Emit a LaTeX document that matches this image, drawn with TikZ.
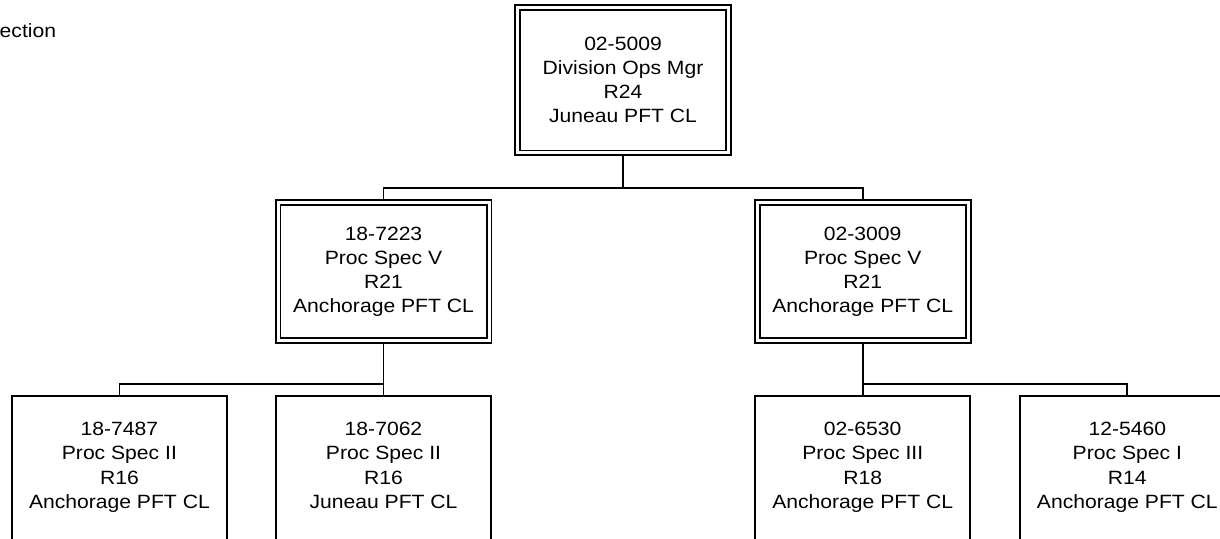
\documentclass[tikz,border=0pt]{standalone}
\usepackage{fontspec}
\setmainfont{Liberation Sans}[FakeStretch=1.1]
\begin{document}
\begin{tikzpicture}[x=1pt,y=-1pt,
  every node/.style={font=\fontsize{19.2}{24.2}\selectfont, align=center, text=black},
  dbox/.style={draw, line width=1.8pt, double, double distance=3pt, inner sep=0pt,
               outer sep=3.3pt, minimum width=211pt},
  sbox/.style={draw, line width=1.8pt, inner xsep=0pt, inner ysep=26.5pt, outer sep=0pt,
               minimum width=215pt, anchor=north, text depth=120pt},
  link/.style={line width=1.8pt}]
\useasboundingbox (0,0) rectangle (1220,538);
\clip (0,0) rectangle (1220,538);

\node[anchor=base west, inner sep=0pt] (sec) at (-0.5,37.5) {ection};

\node[dbox, minimum height=145.6pt] (top) at (623,80)
  {02-5009\\Division Ops Mgr\\R24\\Juneau PFT CL};
\node[dbox, minimum height=138.3pt] (ml) at (383.5,271.6)
  {18-7223\\Proc Spec V\\R21\\Anchorage PFT CL};
\node[dbox, minimum height=138.3pt] (mr) at (862.7,271.6)
  {02-3009\\Proc Spec V\\R21\\Anchorage PFT CL};

\node[sbox] (b1) at (119.4,395.8) {18-7487\\Proc Spec II\\R16\\Anchorage PFT CL};
\node[sbox] (b2) at (383.5,395.8) {18-7062\\Proc Spec II\\R16\\Juneau PFT CL};
\node[sbox] (b3) at (862.7,395.8) {02-6530\\Proc Spec III\\R18\\Anchorage PFT CL};
\node[sbox] (b4) at (1127.3,395.8) {12-5460\\Proc Spec I\\R14\\Anchorage PFT CL};

\coordinate (j0) at (623,188);
\coordinate (j1) at (383.5,384);
\coordinate (j2) at (862.7,384);

\draw[link] (top.south) -- (j0);
\draw[link] (ml.north) |- (j0) -| (mr.north);
\draw[link] (ml.south) -- (j1);
\draw[link] (b1.north) |- (j1) -- (b2.north);
\draw[link] (mr.south) -- (j2);
\draw[link] (b3.north) -- (j2) -| (b4.north);
\end{tikzpicture}
\end{document}
